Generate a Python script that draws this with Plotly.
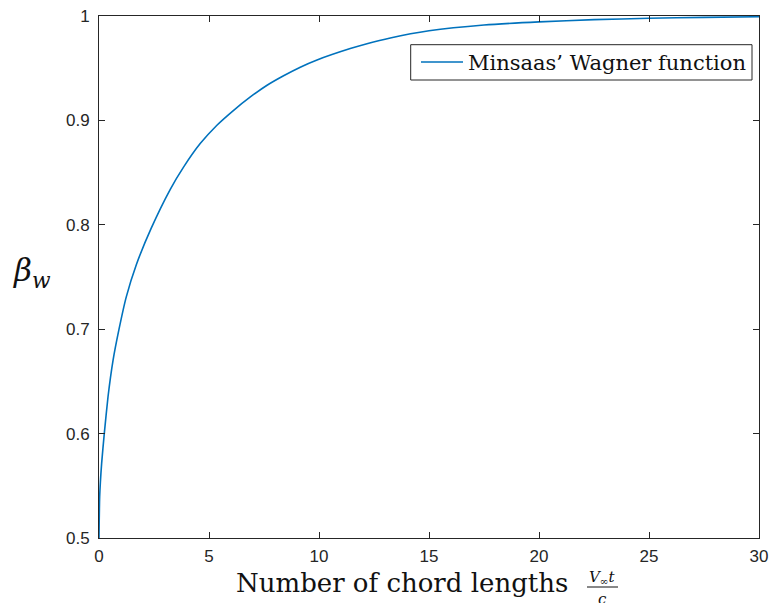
import plotly.graph_objects as go

# chord lengths (V_inf t / c) and Wagner function values
chord_lengths = [0, 0.03, 0.12, 0.24, 0.41, 0.64, 0.91, 1.24, 1.70, 2.38, 3.24, 3.85,
                 4.60, 5.36, 6.12, 6.88, 7.64, 8.39, 9.15, 9.91, 11.42, 12.18, 13.24,
                 15, 17.5, 20, 22.5, 25, 27.5, 30]
beta_w = [0.5, 0.5395, 0.5715, 0.6, 0.6353, 0.6704, 0.7, 0.731, 0.762, 0.797, 0.834, 0.8555,
          0.8778, 0.8954, 0.9097, 0.9225, 0.9337, 0.9428, 0.951, 0.9579, 0.9688, 0.9735, 0.979,
          0.9858, 0.9914, 0.9944, 0.9965, 0.9978, 0.9987, 0.9993]

x_ticks = [0, 5, 10, 15, 20, 25, 30]
y_ticks = [0.5, 0.6, 0.7, 0.8, 0.9, 1.0]
y_tick_labels = ["0.5", "0.6", "0.7", "0.8", "0.9", "1"]

axis_col = "#262626"
txt_col = "#111111"
serif = "DejaVu Serif, Liberation Serif, serif"
sans = "Liberation Sans, Arial, Helvetica, sans-serif"

fig = go.Figure()
fig.add_trace(go.Scatter(
    x=chord_lengths, y=beta_w, mode="lines",
    line=dict(color="#0072BD", width=1.6, shape="spline", smoothing=0.5),
    name="Minsaas\u2019 Wagner function",
))

fig.update_layout(
    width=771, height=603,
    margin=dict(l=99, r=12, t=16, b=65, autoexpand=False),
    paper_bgcolor="white", plot_bgcolor="white",
    showlegend=True,
    legend=dict(
        x=(416 - 99) / 660, y=(538 - 62.3) / 522, xanchor="left", yanchor="middle",
        bgcolor="rgba(0,0,0,0)", borderwidth=0,
        font=dict(family=serif, size=21, color=txt_col),
        itemwidth=42, tracegroupgap=0,
    ),
    xaxis=dict(
        range=[0, 30], tickvals=x_ticks, ticks="inside", ticklen=6, tickcolor=axis_col,
        showline=True, linecolor=axis_col, linewidth=1, mirror="ticks",
        showgrid=False, zeroline=False, automargin=False, ticklabelstandoff=3,
        tickfont=dict(family=sans, size=17, color=axis_col),
    ),
    yaxis=dict(
        range=[0.5, 1], tickvals=y_ticks, ticktext=y_tick_labels, ticks="inside", ticklen=6,
        tickcolor=axis_col, showline=True, linecolor=axis_col, linewidth=1, mirror="ticks",
        showgrid=False, zeroline=False, automargin=False, ticklabelstandoff=5,
        tickfont=dict(family=sans, size=17, color=axis_col),
    ),
    annotations=[
        dict(text="<i>\u03b2</i><sub><i>w</i></sub>", xref="paper", yref="paper",
             x=(32 - 99) / 660, y=(538 - 272) / 522, xanchor="center", yanchor="middle",
             showarrow=False, font=dict(family=serif, size=31, color=txt_col)),
        dict(text="Number of chord lengths", xref="paper", yref="paper",
             x=(402 - 99) / 660, y=(538 - 583) / 522, xanchor="center", yanchor="middle",
             showarrow=False, font=dict(family=serif, size=26, color=txt_col)),
        dict(text="<i>V</i><sub>\u221e</sub><i>t</i>", xref="paper", yref="paper",
             x=(602.5 - 99) / 660, y=(538 - 577) / 522, xanchor="center", yanchor="middle",
             showarrow=False, font=dict(family=serif, size=15, color=txt_col)),
        dict(text="<i>c</i>", xref="paper", yref="paper",
             x=(602.5 - 99) / 660, y=(538 - 599) / 522, xanchor="center", yanchor="middle",
             showarrow=False, font=dict(family=serif, size=15, color=txt_col)),
    ],
    shapes=[
        # fraction bar of the x-axis title
        dict(type="line", xref="paper", yref="paper",
             x0=(587 - 99) / 660, x1=(618 - 99) / 660,
             y0=(538 - 587) / 522, y1=(538 - 587) / 522,
             line=dict(color=txt_col, width=1)),
        # legend frame
        dict(type="rect", xref="paper", yref="paper", layer="above",
             x0=(410.7 - 99) / 660, x1=(752 - 99) / 660,
             y0=(538 - 80) / 522, y1=(538 - 44.7) / 522,
             line=dict(color=axis_col, width=1), fillcolor="rgba(0,0,0,0)"),
    ],
)

fig.write_html("out.html")
